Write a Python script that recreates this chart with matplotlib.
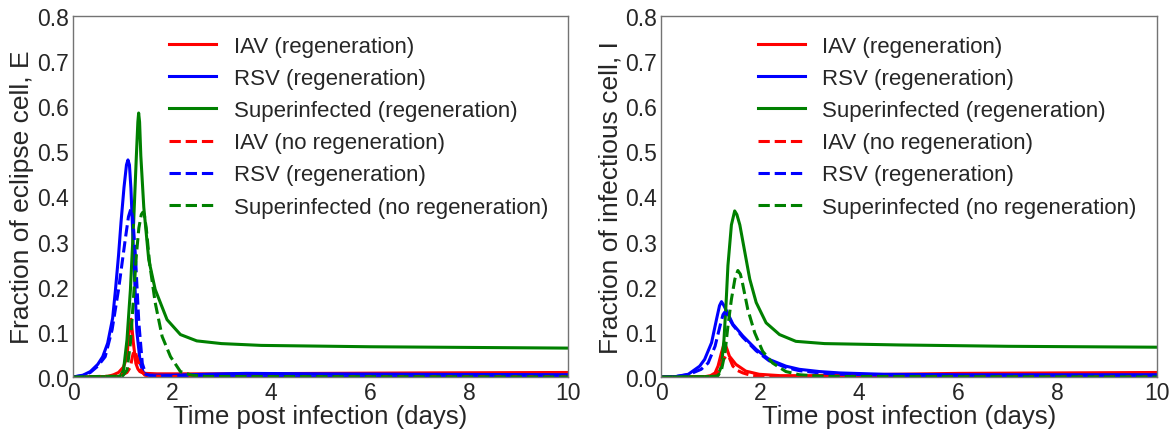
import matplotlib.pyplot as plt

plt.rcParams['font.family'] = ['Liberation Sans', 'DejaVu Sans']
plt.rcParams['text.color'] = '0.15'
plt.rcParams['axes.labelcolor'] = '0.15'
plt.rcParams['xtick.color'] = '0.15'
plt.rcParams['ytick.color'] = '0.15'

labels = ["IAV (regeneration)", "RSV (regeneration)", "Superinfected (regeneration)",
          "IAV (no regeneration)", "RSV (regeneration)", "Superinfected (no regeneration)"]
colors = ['red', 'blue', 'green', 'red', 'blue', 'green']
styles = ['-', '-', '-', '--', '--', '--']

# ---- eclipse cells, E ----
t_iav_reg_E = [0, 0.7, 0.82, 0.92, 1.02, 1.09, 1.13, 1.175, 1.22, 1.27, 1.31, 1.35, 1.41, 1.48, 1.7, 2, 3, 5, 7, 10]
iav_reg_E = [0, 0.001, 0.005, 0.01, 0.022, 0.045, 0.097, 0.128, 0.075, 0.03, 0.018, 0.012, 0.009, 0.008, 0.007, 0.007, 0.007, 0.008, 0.009, 0.01]
t_rsv_reg_E = [0, 0.2, 0.35, 0.5, 0.6, 0.7, 0.8, 0.855, 0.92, 0.97, 1.03, 1.08, 1.11, 1.14, 1.17, 1.225, 1.29, 1.36, 1.42, 1.5, 2, 3, 3.5, 5, 7, 10]
rsv_reg_E = [0, 0.004, 0.012, 0.028, 0.045, 0.075, 0.13, 0.19, 0.27, 0.343, 0.42, 0.47, 0.481, 0.47, 0.418, 0.27, 0.1, 0.03, 0.01, 0.004, 0.004, 0.007, 0.008, 0.007, 0.006, 0.005]
t_sup_reg_E = [0, 0.9, 0.96, 1.02, 1.09, 1.16, 1.225, 1.28, 1.31, 1.326, 1.345, 1.37, 1.43, 1.53, 1.66, 1.9, 2.17, 2.5, 3, 3.8, 6, 10]
sup_reg_E = [0, 0.001, 0.003, 0.015, 0.082, 0.194, 0.343, 0.49, 0.565, 0.585, 0.565, 0.49, 0.376, 0.26, 0.194, 0.127, 0.094, 0.08, 0.074, 0.07, 0.067, 0.064]
t_iav_no_E = [0, 0.9, 1.02, 1.09, 1.16, 1.2, 1.23, 1.26, 1.3, 1.37, 1.45, 1.55, 2, 10]
iav_no_E = [0, 0.002, 0.006, 0.01, 0.022, 0.045, 0.058, 0.055, 0.04, 0.015, 0.004, 0.002, 0.001, 0.0005]
t_rsv_no_E = [0, 0.2, 0.35, 0.5, 0.65, 0.79, 0.92, 1.057, 1.12, 1.17, 1.21, 1.26, 1.33, 1.4, 1.47, 1.6, 2, 10]
rsv_no_E = [0, 0.003, 0.01, 0.024, 0.045, 0.105, 0.194, 0.306, 0.355, 0.373, 0.35, 0.27, 0.12, 0.03, 0.006, 0.002, 0.001, 0.0005]
t_sup_no_E = [0, 1.0, 1.09, 1.16, 1.225, 1.28, 1.33, 1.38, 1.41, 1.44, 1.48, 1.55, 1.66, 1.8, 1.97, 2.17, 2.4, 2.7, 10]
sup_no_E = [0, 0.002, 0.015, 0.075, 0.18, 0.27, 0.33, 0.36, 0.365, 0.36, 0.33, 0.25, 0.165, 0.09, 0.045, 0.012, 0.004, 0.001, 0]

# ---- infectious cells, I ----
t_iav_reg_I = [0, 0.9, 1.0, 1.09, 1.15, 1.22, 1.28, 1.33, 1.38, 1.51, 1.71, 1.98, 2.4, 3, 4, 6, 8, 10]
iav_reg_I = [0, 0.001, 0.003, 0.009, 0.024, 0.054, 0.076, 0.062, 0.046, 0.028, 0.013, 0.006, 0.003, 0.003, 0.005, 0.008, 0.009, 0.01]
t_rsv_reg_I = [0, 0.3, 0.55, 0.78, 0.88, 1.02, 1.12, 1.18, 1.22, 1.26, 1.32, 1.45, 1.65, 1.92, 2.18, 2.52, 2.79, 3.2, 3.6, 4.5, 6, 10]
rsv_reg_I = [0, 0.001, 0.006, 0.024, 0.039, 0.076, 0.128, 0.158, 0.167, 0.16, 0.147, 0.117, 0.091, 0.061, 0.039, 0.024, 0.017, 0.012, 0.009, 0.006, 0.005, 0.005]
t_sup_reg_I = [0, 1.0, 1.15, 1.22, 1.27, 1.31, 1.35, 1.42, 1.486, 1.53, 1.59, 1.69, 1.79, 1.92, 2.12, 2.39, 2.72, 3.3, 4.8, 7, 10]
sup_reg_I = [0, 0.001, 0.005, 0.024, 0.083, 0.158, 0.247, 0.337, 0.368, 0.36, 0.337, 0.277, 0.217, 0.165, 0.12, 0.094, 0.079, 0.074, 0.071, 0.068, 0.066]
t_iav_no_I = [0, 1.0, 1.1, 1.18, 1.25, 1.33, 1.38, 1.45, 1.55, 1.65, 1.8, 1.95, 2.3, 10]
iav_no_I = [0, 0.001, 0.004, 0.016, 0.038, 0.048, 0.042, 0.024, 0.014, 0.009, 0.004, 0.002, 0.001, 0]
t_rsv_no_I = [0, 0.3, 0.55, 0.81, 0.95, 1.09, 1.19, 1.25, 1.28, 1.32, 1.45, 1.65, 1.92, 2.18, 2.52, 2.79, 3.2, 3.6, 4.5, 6, 10]
rsv_no_I = [0, 0.001, 0.005, 0.017, 0.031, 0.068, 0.113, 0.138, 0.143, 0.14, 0.115, 0.088, 0.058, 0.036, 0.021, 0.014, 0.009, 0.006, 0.004, 0.002, 0.001]
t_sup_no_I = [0, 1.05, 1.15, 1.22, 1.29, 1.35, 1.42, 1.49, 1.55, 1.6, 1.64, 1.75, 1.89, 2.05, 2.25, 2.52, 2.79, 3.2, 3.6, 10]
sup_no_I = [0, 0.001, 0.003, 0.016, 0.053, 0.113, 0.172, 0.217, 0.236, 0.228, 0.21, 0.15, 0.098, 0.057, 0.031, 0.012, 0.005, 0.002, 0.001, 0]

panels = [
    ("Fraction of eclipse cell, E",
     [(t_iav_reg_E, iav_reg_E), (t_rsv_reg_E, rsv_reg_E), (t_sup_reg_E, sup_reg_E),
      (t_iav_no_E, iav_no_E), (t_rsv_no_E, rsv_no_E), (t_sup_no_E, sup_no_E)]),
    ("Fraction of infectious cell, I",
     [(t_iav_reg_I, iav_reg_I), (t_rsv_reg_I, rsv_reg_I), (t_sup_reg_I, sup_reg_I),
      (t_iav_no_I, iav_no_I), (t_rsv_no_I, rsv_no_I), (t_sup_no_I, sup_no_I)]),
]

fig = plt.figure(figsize=(11.72, 4.31), dpi=100)
ax_pos = [[0.0623, 0.123, 0.4223, 0.8376], [0.564, 0.123, 0.423, 0.8376]]

for pos, (ylab, series) in zip(ax_pos, panels):
    ax = fig.add_axes(pos)
    for (t, v), lab, c, ls in zip(series, labels, colors, styles):
        ax.plot(t, v, color=c, linestyle=ls, linewidth=2.2, label=lab,
                solid_joinstyle='round', dash_joinstyle='round')
    ax.set_xlim(0, 10)
    ax.set_ylim(0, 0.8)
    ax.set_xticks([0, 2, 4, 6, 8, 10])
    ax.set_yticks([0, 0.1, 0.2, 0.3, 0.4, 0.5, 0.6, 0.7, 0.8])
    ax.set_yticklabels([f"{y:.1f}" for y in ax.get_yticks()])
    ax.tick_params(length=0, labelsize=16.5, pad=3)
    for s in ax.spines.values():
        s.set_color('0.45')
        s.set_linewidth(1)
    ax.set_xlabel("Time post infection (days)", fontsize=18.5, labelpad=0)
    ax.set_ylabel(ylab, fontsize=19, labelpad=2)
    ax.legend(loc='upper right', frameon=False, fontsize=16, handlelength=2.1)

plt.savefig("out.png", dpi=100)
